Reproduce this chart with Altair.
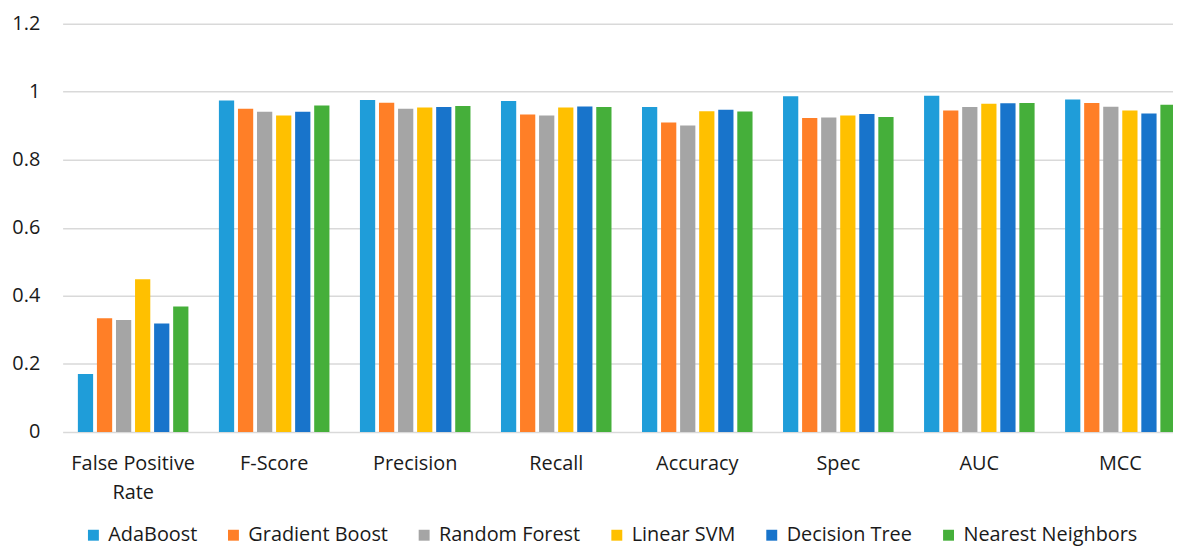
import altair as alt
import pandas as pd

metrics = ["False Positive Rate", "F-Score", "Precision", "Recall", "Accuracy", "Spec", "AUC", "MCC"]
models = ["AdaBoost", "Gradient Boost", "Random Forest", "Linear SVM", "Decision Tree", "Nearest Neighbors"]
colors = ["#1F9DD9", "#FF7F27", "#A5A5A5", "#FFC000", "#1874CB", "#45AF3A"]

ada = [0.170, 0.974, 0.976, 0.973, 0.955, 0.987, 0.988, 0.977]
gradient = [0.334, 0.950, 0.968, 0.933, 0.910, 0.923, 0.945, 0.967]
forest = [0.329, 0.941, 0.950, 0.930, 0.901, 0.924, 0.955, 0.956]
svm = [0.449, 0.930, 0.954, 0.954, 0.943, 0.930, 0.965, 0.945]
tree = [0.319, 0.941, 0.955, 0.957, 0.947, 0.935, 0.966, 0.936]
knn = [0.369, 0.960, 0.958, 0.955, 0.942, 0.926, 0.967, 0.962]

series = [ada, gradient, forest, svm, tree, knn]
rows = []
for m, vals in zip(models, series):
    for metric, v in zip(metrics, vals):
        rows.append({"metric": metric, "model": m, "value": v})
df = pd.DataFrame(rows)

FONT = "Open Sans"
TXT = "#1a1a1a"

chart = alt.Chart(df).mark_bar().encode(
    x=alt.X("metric:N", sort=metrics, title=None,
            scale=alt.Scale(paddingInner=0, paddingOuter=0),
            axis=alt.Axis(labelAngle=0, domain=False, ticks=False, tickSize=0,
                          labelPadding=22, labelFontSize=20, labelFont=FONT,
                          labelColor=TXT, labelLineHeight=29,
                          labelExpr="datum.label == 'False Positive Rate' ? ['False Positive', 'Rate'] : datum.label")),
    xOffset=alt.XOffset("model:N", sort=models,
                        scale=alt.Scale(paddingInner=0.2, paddingOuter=0.8)),
    y=alt.Y("value:Q", title=None,
            scale=alt.Scale(domain=[0, 1.2], nice=False),
            axis=alt.Axis(values=[0, 0.2, 0.4, 0.6, 0.8, 1.0, 1.2], format=".1~f",
                          domain=False, ticks=False, tickSize=0, labelPadding=23,
                          labelFontSize=20, labelFont=FONT, labelColor=TXT,
                          gridColor="#d9d9d9", gridWidth=1.5)),
    color=alt.Color("model:N", sort=models,
                    scale=alt.Scale(domain=models, range=colors),
                    legend=alt.Legend(title=None, orient="none", direction="horizontal",
                                      legendX=21, legendY=505, columns=6,
                                      symbolType="square", symbolSize=121,
                                      symbolStrokeWidth=0, labelOffset=5,
                                      columnPadding=26, labelFontSize=20,
                                      labelLimit=400,
                                      labelFont=FONT, labelColor=TXT)),
).properties(
    width=1136, height=411,
    autosize=alt.AutoSizeParams(type="none"),
    padding={"left": 55, "right": -18, "top": 14, "bottom": 113},
).configure_view(stroke=None)

chart.save("out.html", embed_options={"renderer": "svg", "actions": False})
